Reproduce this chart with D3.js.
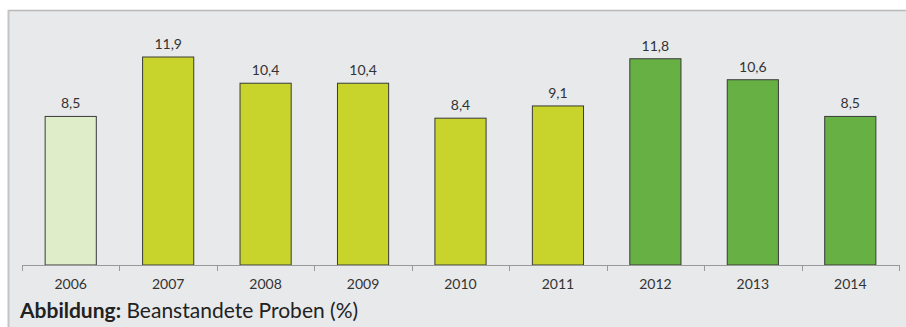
<!DOCTYPE html>
<html><head><meta charset="utf-8">
<script src="https://cdn.jsdelivr.net/npm/d3@7"></script>
<style>html,body{margin:0;padding:0;background:#fff;}svg{display:block;}</style>
</head><body>
<script>
const years = ["2006","2007","2008","2009","2010","2011","2012","2013","2014"];
const values = [8.5, 11.9, 10.4, 10.4, 8.4, 9.1, 11.8, 10.6, 8.5];
const groups = ["a","b","b","b","b","b","c","c","c"];
const groupColors = {a:"#dfedc9", b:"#c8d42c", c:"#66b044"};
const yDomain = [0, 14];
const captionBold = "Abbildung:";
const captionText = " Beanstandete Proben (%)";

const W = 906, H = 327;
const svg = d3.select("body").append("svg").attr("width", W).attr("height", H);

// panel
svg.append("rect").attr("x", 8).attr("y", 10).attr("width", W - 8).attr("height", H - 10).attr("fill", "#e8e9eb");
svg.append("line").attr("x1", 8).attr("x2", W).attr("y1", 10.5).attr("y2", 10.5).attr("stroke", "#b9b9b9").attr("stroke-width", 1.5);
svg.append("line").attr("x1", 8.5).attr("x2", 8.5).attr("y1", 10).attr("y2", H).attr("stroke", "#c4c4c4").attr("stroke-width", 2);

const x = d3.scaleBand().domain(years).range([22, 899]).paddingInner(0.475).paddingOuter(0.2375);
const y = d3.scaleLinear().domain(yDomain).range([265, 20.3]);

const g = svg.append("g");
g.selectAll("rect.bar").data(values).enter().append("rect")
  .attr("class", "bar")
  .attr("x", (d, i) => x(years[i]))
  .attr("y", d => y(d))
  .attr("width", x.bandwidth())
  .attr("height", d => y(0) - y(d))
  .attr("fill", (d, i) => groupColors[groups[i]])
  .attr("stroke", "#3a3a3a").attr("stroke-width", 1);

g.selectAll("text.val").data(values).enter().append("text")
  .attr("class", "val")
  .attr("x", (d, i) => x(years[i]) + x.bandwidth() / 2)
  .attr("y", d => y(d) - 8)
  .attr("text-anchor", "middle")
  .attr("font-family", "Lato, sans-serif").attr("font-size", 14).attr("fill", "#333")
  .text(d => d.toFixed(1).replace(".", ","));

// axis
const xAxisScale = d3.scalePoint().domain(d3.range(years.length + 1)).range([22, 899]);
const axisG = svg.append("g");
axisG.append("line").attr("x1", 22).attr("x2", 899).attr("y1", 265.5).attr("y2", 265.5).attr("stroke", "#999").attr("stroke-width", 1);
axisG.selectAll("line.tick").data(xAxisScale.domain()).enter().append("line")
  .attr("class", "tick")
  .attr("x1", d => Math.round(xAxisScale(d)) + 0.5).attr("x2", d => Math.round(xAxisScale(d)) + 0.5)
  .attr("y1", 265).attr("y2", 271).attr("stroke", "#999");
axisG.selectAll("text").data(years).enter().append("text")
  .attr("x", d => x(d) + x.bandwidth() / 2)
  .attr("y", 289)
  .attr("text-anchor", "middle")
  .attr("font-family", "Lato, sans-serif").attr("font-size", 14).attr("fill", "#333")
  .text(d => d);

const cap = svg.append("text").attr("x", 20).attr("y", 318)
  .attr("font-family", "Lato, sans-serif").attr("font-size", 21).attr("fill", "#222");
cap.append("tspan").attr("font-weight", "bold").text(captionBold);
cap.append("tspan").text(captionText);
</script>
</body></html>
